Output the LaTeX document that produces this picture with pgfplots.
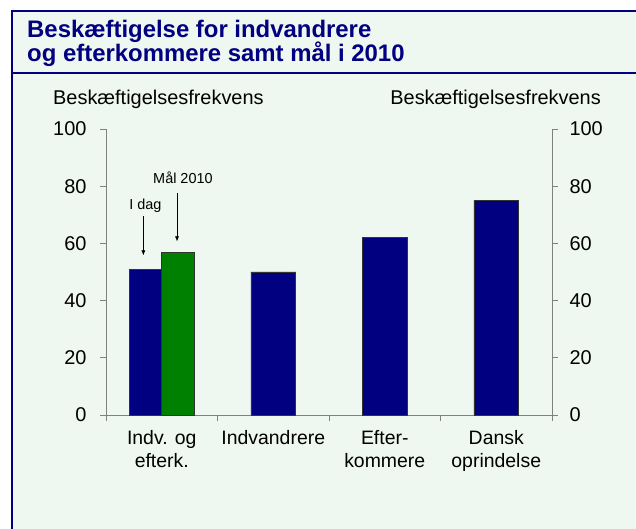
\documentclass[border=0pt]{standalone}
\usepackage{pgfplots}
\pgfplotsset{compat=1.18}
\usepackage{fontspec}
\setmainfont{Liberation Sans}
\usetikzlibrary{arrows.meta}
\definecolor{navy}{RGB}{0,0,128}
\definecolor{mygreen}{RGB}{0,128,0}
\definecolor{mint}{RGB}{238,247,240}
\definecolor{axgray}{RGB}{128,128,128}
\begin{document}
\begin{tikzpicture}[x=1bp,y=1bp]
\path[use as bounding box] (0,0) rectangle (636,529);
\fill[white] (0,0) rectangle (636,529);
\fill[mint] (12,0) rectangle (640,518);
\draw[navy, line width=1.3bp] (12,-2) -- (12,518) -- (640,518);
\draw[navy, line width=1.3bp] (12,456) -- (640,456);
\node[anchor=base west, text=navy, font=\fontsize{24}{26}\selectfont\bfseries, inner sep=0pt] at (27,491.7) {Beskæftigelse for indvandrere};
\node[anchor=base west, text=navy, font=\fontsize{24}{26}\selectfont\bfseries, inner sep=0pt] at (27,467) {og efterkommere samt mål i 2010};
\node[anchor=base west, font=\fontsize{20}{23}\selectfont, inner sep=0pt] at (53,424) {Beskæftigelsesfrekvens};
\node[anchor=base east, font=\fontsize{20}{23}\selectfont, inner sep=0pt] at (601,424) {Beskæftigelsesfrekvens};
\begin{axis}[
  at={(106bp,114bp)}, anchor=south west,
  scale only axis, width=446bp, height=286bp,
  xmin=0, xmax=4, ymin=0, ymax=100,
  axis x line*=bottom, axis y line*=left,
  axis line style={axgray, line width=0.8bp},
  tick style={axgray, line width=0.8bp},
  tick align=outside, major tick length=6bp,
  xtick={0,1,2,3,4}, xticklabels={},
  extra x ticks={0.5,1.5,2.5,3.5},
  extra x tick labels={{Indv. og\\efterk.},Indvandrere,{Efter-\\kommere},{Dansk\\oprindelse}},
  extra x tick style={major tick length=0pt, xticklabel style={align=center, yshift=-12bp, font=\fontsize{19.5}{23}\selectfont}},
  ytick={0,20,...,100},
  /pgf/number format/assume math mode=true,
  tick label style={font=\fontsize{20}{23}\selectfont},
  yticklabel style={xshift=-10bp},
  clip=false,
]
\addplot[ybar, bar shift=0pt, bar width=0.29, fill=navy, draw=black!80, line width=0.6bp] coordinates {(0.355,51)};
\addplot[ybar, bar shift=0pt, bar width=0.29, fill=mygreen, draw=black!80, line width=0.6bp] coordinates {(0.645,57)};
\addplot[ybar, bar shift=0pt, bar width=0.40, fill=navy, draw=black!80, line width=0.6bp] coordinates {(1.5,50) (2.5,62) (3.5,75)};
\draw[-{Latex[length=5bp,width=4bp]}, line width=0.6bp] (axis cs:0.335,69.5) -- (axis cs:0.335,55.8);
\draw[-{Latex[length=5bp,width=4bp]}, line width=0.6bp] (axis cs:0.637,77.5) -- (axis cs:0.637,60.7);
\node[anchor=base, font=\fontsize{14.5}{16}\selectfont, inner sep=0pt] at (axis cs:0.354,71.9) {I dag};
\node[anchor=base, font=\fontsize{14.5}{16}\selectfont, inner sep=0pt] at (axis cs:0.69,81.0) {Mål 2010};
\end{axis}
\begin{axis}[
  at={(106bp,114bp)}, anchor=south west,
  scale only axis, width=446bp, height=286bp,
  xmin=0, xmax=4, ymin=0, ymax=100,
  axis x line=none, axis y line*=right,
  axis line style={axgray, line width=0.8bp},
  tick style={axgray, line width=0.8bp},
  tick align=outside, major tick length=6bp,
  ytick={0,20,...,100},
  /pgf/number format/assume math mode=true,
  tick label style={font=\fontsize{20}{23}\selectfont},
  yticklabel style={xshift=8bp},
]
\end{axis}
\end{tikzpicture}
\end{document}
